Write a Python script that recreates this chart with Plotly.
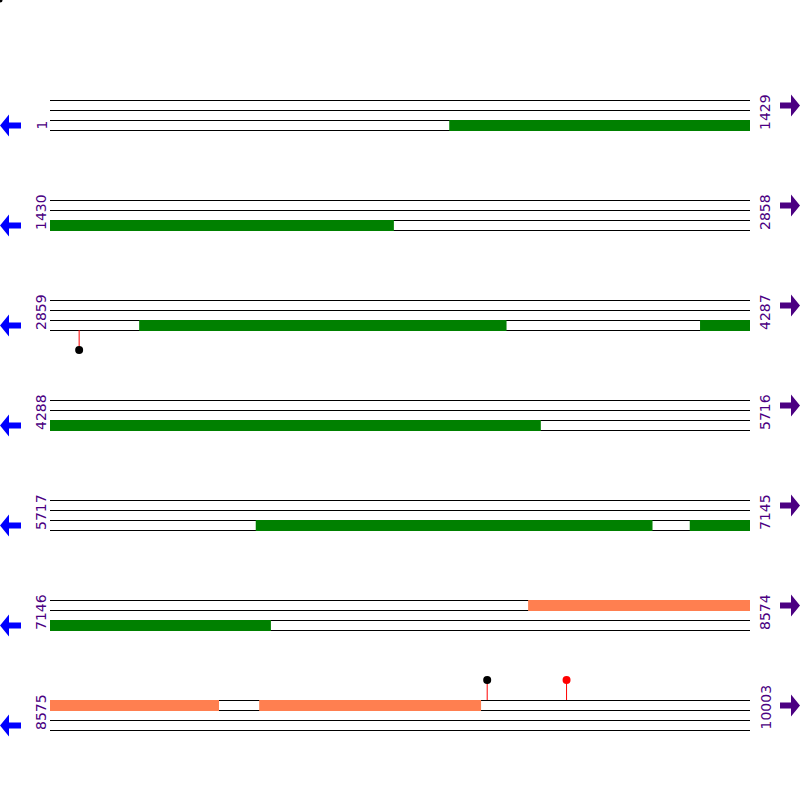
import plotly.graph_objects as go

# Sequence layout: 7 rows of 1429 bp
seq_len = 10003
row_len = 1429
row_starts = [1, 1430, 2859, 4288, 5717, 7146, 8575]
row_ends = [1429, 2858, 4287, 5716, 7145, 8574, 10003]

# ORFs in band 2 (green)
orf_starts = [816, 3041, 4186, 6137, 7023]
orf_ends = [2131, 3790, 5289, 6946, 7596]

# features in band 0 (coral)
feat_starts = [8122, 9002]
feat_ends = [8919, 9454]

# lollipop sites: position, direction (+1 up, -1 down), dot colour
site_pos = [2918, 9467, 9629]
site_dir = [-1, 1, 1]
site_color = ["black", "black", "red"]

PX = row_len / 700.0  # bp per pixel
HALF = 0.05  # half a pixel in y units, keeps 1px lines crisp


def line_y(r, k):
    return 10 + 10 * r + k


def split(starts, ends):
    segs = []
    for s, e in zip(starts, ends):
        for r, (rs, re_) in enumerate(zip(row_starts, row_ends)):
            a, b = max(s, rs), min(e, re_)
            if a <= b:
                segs.append((r, a - rs, b - rs + 1))
    return segs


fig = go.Figure()

# frame lines
shapes = []
for r in range(len(row_starts)):
    for k in range(4):
        shapes.append(dict(type="line", xref="x", yref="y", layer="below",
                           x0=0, x1=row_ends[r] - row_starts[r] + 1,
                           y0=line_y(r, k) + HALF, y1=line_y(r, k) + HALF,
                           line=dict(color="black", width=1)))


def add_bars(segs, band, color):
    fig.add_trace(go.Bar(
        orientation="h",
        y=[line_y(r, band) + 0.5 + HALF for r, a, b in segs],
        x=[b - a for r, a, b in segs],
        base=[a for r, a, b in segs],
        width=1 + 2 * HALF,
        marker=dict(color=color, line=dict(width=0)),
        hoverinfo="skip", showlegend=False,
    ))


add_bars(split(orf_starts, orf_ends), 2, "#008000")
add_bars(split(feat_starts, feat_ends), 0, "#FF7F50")

# lollipops
for p, d, c in zip(site_pos, site_dir, site_color):
    r = next(i for i, (rs, re_) in enumerate(zip(row_starts, row_ends)) if rs <= p <= re_)
    off = p - row_starts[r] + 0.5
    y0 = line_y(r, 3) if d < 0 else line_y(r, 0)
    y1 = y0 + 2 if d < 0 else y0 - 2
    fig.add_trace(go.Scatter(x=[off, off], y=[y0, y1], mode="lines",
                             line=dict(color="red", width=1),
                             hoverinfo="skip", showlegend=False))
    fig.add_trace(go.Scatter(x=[off], y=[y1], mode="markers",
                             marker=dict(color=c, size=8),
                             hoverinfo="skip", showlegend=False))

# stray marker in the corner
fig.add_trace(go.Scatter(x=[-50 * PX], y=[0], mode="markers",
                         marker=dict(color="black", size=5), cliponaxis=False,
                         hoverinfo="skip", showlegend=False))


def pp(px, py):
    return f"{px / 800:.5f},{1 - py / 800:.5f}"


annotations = []
purple = "#4B0082"
for r in range(len(row_starts)):
    yb = line_y(r, 3) + 0.1
    annotations.append(dict(x=-9 * PX, y=yb, xref="x", yref="y", text=str(row_starts[r]),
                            textangle=-90, showarrow=False, xanchor="center", yanchor="bottom",
                            font=dict(family="DejaVu Sans", size=14, color=purple),
                            borderpad=0))
    annotations.append(dict(x=715 * PX, y=yb, xref="x", yref="y", text=str(row_ends[r]),
                            textangle=-90, showarrow=False, xanchor="center", yanchor="bottom",
                            font=dict(family="DejaVu Sans", size=14, color=purple),
                            borderpad=0))
    # left (reverse) arrow
    cy = 125.5 + 100 * r
    path = ("M" + pp(0, cy) + " L" + pp(9, cy - 11) + " L" + pp(9, cy - 3) + " L" + pp(21, cy - 3)
            + " L" + pp(21, cy + 3) + " L" + pp(9, cy + 3) + " L" + pp(9, cy + 11) + " Z")
    shapes.append(dict(type="path", xref="paper", yref="paper", path=path,
                       fillcolor="#0000FF", line=dict(width=0)))
    # right (forward) arrow
    cy = 105.5 + 100 * r
    path = ("M" + pp(800, cy) + " L" + pp(791, cy - 11) + " L" + pp(791, cy - 3) + " L" + pp(780, cy - 3)
            + " L" + pp(780, cy + 3) + " L" + pp(791, cy + 3) + " L" + pp(791, cy + 11) + " Z")
    shapes.append(dict(type="path", xref="paper", yref="paper", path=path,
                       fillcolor=purple, line=dict(width=0)))

fig.update_layout(
    width=800, height=800,
    margin=dict(l=0, r=0, t=0, b=0),
    paper_bgcolor="white", plot_bgcolor="white",
    barmode="overlay",
    shapes=shapes, annotations=annotations,
    xaxis=dict(range=[-50 * PX, row_len + 50 * PX], visible=False, fixedrange=True),
    yaxis=dict(range=[80, 0], visible=False, fixedrange=True),
    showlegend=False,
)

fig.write_html("out.html", config={"displayModeBar": False},
               post_script="document.body.style.margin='0px';document.body.style.overflow='hidden';")
